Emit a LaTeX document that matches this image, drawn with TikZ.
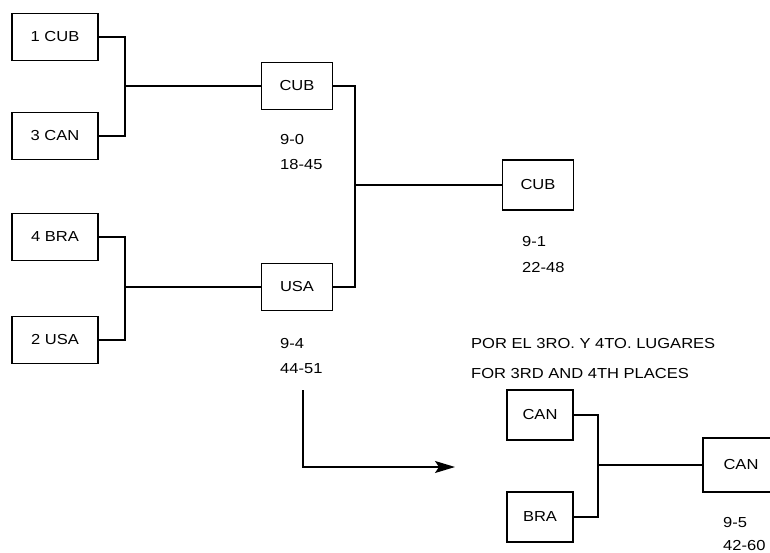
\documentclass[tikz,border=0pt]{standalone}
\usepackage{fontspec}
\setmainfont[FakeStretch=1.14]{Liberation Sans}
\usetikzlibrary{arrows.meta}
\begin{document}
\begin{tikzpicture}[x=1pt,y=-1pt,
  tf/.style={font=\fontsize{14.5}{17}\selectfont},
  team/.style={tf,draw,line width=1.3pt,minimum width=86pt,minimum height=47pt,inner sep=0pt},
  win/.style={tf,draw,line width=1.3pt,minimum width=71pt,minimum height=47pt,inner sep=0pt},
  small/.style={tf,draw,line width=1.3pt,minimum width=66pt,minimum height=50pt,inner sep=0pt},
  wire/.style={line width=1.3pt},
  score/.style={tf,anchor=base west,inner sep=0pt,text depth=0pt}]
\useasboundingbox (0,0) rectangle (770,553);
\clip (0,0) rectangle (770,553);
% first round
\node[team] (c1) at (55,37) {1 CUB};
\node[team] (c3) at (55,136) {3 CAN};
\node[team] (b4) at (55,237) {4 BRA};
\node[team] (u2) at (55,340) {2 USA};
% semifinal winners
\node[win] (sc) at (297,86) {CUB};
\node[win] (su) at (297,287) {USA};
% final
\node[win,minimum height=50pt] (fc) at (538,185) {CUB};
% third place
\node[small] (tc) at (540,415) {CAN};
\node[small] (tb) at (540,517) {BRA};
\node[tf,draw,line width=1.3pt,minimum width=76pt,minimum height=54pt,inner sep=0pt] (tw) at (741,465) {CAN};
% brackets
\coordinate (m1) at (125,86);
\coordinate (m2) at (125,287);
\coordinate (m3) at (355,185);
\coordinate (m4) at (598,465);
\draw[wire] (c1.east) -| (m1) |- (c3.east);
\draw[wire] (m1) -- (sc.west);
\draw[wire] (b4.east) -| (m2) |- (u2.east);
\draw[wire] (m2) -- (su.west);
\draw[wire] (sc.east) -| (m3) |- (su.east);
\draw[wire] (m3) -- (fc.west);
\draw[wire] (tc.east) -| (m4) |- (tb.east);
\draw[wire] (m4) -- (tw.west);
% scores
\node[score] (s1a) at (280,145) {9-0};
\node[score] (s1b) at (280,170) {18-45};
\node[score] (s2a) at (280,348) {9-4};
\node[score] (s2b) at (280,373) {44-51};
\node[score] (s3a) at (522,246) {9-1};
\node[score] (s3b) at (522,272) {22-48};
\node[score] (s4a) at (723,527) {9-5};
\node[score] (s4b) at (723,550) {42-60};
% arrow
\coordinate (a0) at (303,390);
\coordinate (a1) at (455,467);
\draw[wire,-{Stealth[length=20pt,width=12pt,inset=4pt]}] (a0) |- (a1);
% labels
\node[score] (l1) at (471,348) {POR EL 3RO. Y 4TO. LUGARES};
\node[score] (l2) at (471,378) {FOR 3RD AND 4TH PLACES};
\end{tikzpicture}
\end{document}
